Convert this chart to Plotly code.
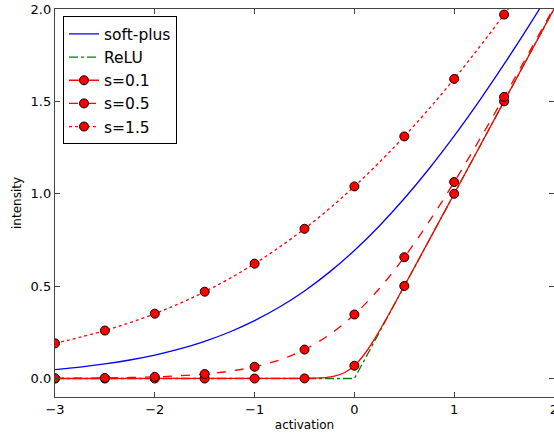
import plotly.graph_objects as go

# ---- data ----
x_soft = [-3, -2.75, -2.5, -2.25, -2, -1.75, -1.5, -1.25, -1, -0.75, -0.5, -0.25,
          0, 0.25, 0.5, 0.75, 1, 1.25, 1.5, 1.75, 2]
y_soft = [0.0486, 0.0620, 0.0789, 0.1002, 0.1269, 0.1602, 0.2014, 0.2519, 0.3133,
          0.3868, 0.4741, 0.5759, 0.6931, 0.8259, 0.9741, 1.1368, 1.3133, 1.5019,
          1.7014, 1.9102, 2.1269]

x_relu = [-3, 0, 2]
y_relu = [0, 0, 2]

# s = 0.1 curve
x_s01_line = [-3, -0.5, -0.4, -0.3, -0.2, -0.1, 0, 0.1, 0.2, 0.3, 0.4, 0.5, 1, 1.5, 2]
y_s01_line = [0.0, 0.0007, 0.0018, 0.0049, 0.0127, 0.0313, 0.0693, 0.1313, 0.2127,
              0.3049, 0.4018, 0.5007, 1.0, 1.5, 2.0]

# s = 0.5 curve
x_s05_line = [-3, -2.75, -2.5, -2.25, -2, -1.75, -1.5, -1.25, -1, -0.75, -0.5, -0.25,
              0, 0.25, 0.5, 0.75, 1, 1.25, 1.5, 1.75, 2]
y_s05_line = [0.0012, 0.0020, 0.0034, 0.0055, 0.0091, 0.0149, 0.0243, 0.0395, 0.0635,
              0.1007, 0.1566, 0.2370, 0.3466, 0.4870, 0.6566, 0.8507, 1.0635, 1.2895,
              1.5243, 1.7649, 2.0091]

# s = 1.5 curve
x_s15_line = [-3, -2.5, -2, -1.5, -1, -0.5, 0, 0.5, 1, 1.5, 1.75, 2]
y_s15_line = [0.1903, 0.2596, 0.3510, 0.4699, 0.6216, 0.8105, 1.0397, 1.3105, 1.6216,
              1.9699, 2.1567, 2.3510]

# sample points (markers)
x_pts = [-3, -2.5, -2, -1.5, -1, -0.5, 0, 0.5, 1, 1.5]
y_s01_pts = [0.0, 0.0, 0.0, 0.0, 0.0, 0.0007, 0.0693, 0.5007, 1.0, 1.5]
y_s05_pts = [0.0012, 0.0034, 0.0091, 0.0243, 0.0635, 0.1566, 0.3466, 0.6566, 1.0635, 1.5243]
y_s15_pts = [0.1903, 0.2596, 0.3510, 0.4699, 0.6216, 0.8105, 1.0397, 1.3105, 1.6216, 1.9699]

x_ticks = [-3, -2, -1, 0, 1, 2]
y_ticks = [0.0, 0.5, 1.0, 1.5, 2.0]

FONT = "DejaVu Sans"
RED = "#ff0000"
LW = 1.3
MARKER = dict(size=9, color=RED, line=dict(color="black", width=1))

fig = go.Figure()

fig.add_trace(go.Scatter(x=x_soft, y=y_soft, mode="lines", name="soft-plus",
                         line=dict(color="#0000ff", width=LW, shape="spline")))
fig.add_trace(go.Scatter(x=x_relu, y=y_relu, mode="lines", name="ReLU",
                         line=dict(color="#008000", width=LW, dash="dashdot")))

series = [
    ("s=0.1", x_s01_line, y_s01_line, y_s01_pts, "solid"),
    ("s=0.5", x_s05_line, y_s05_line, y_s05_pts, "dash"),
    ("s=1.5", x_s15_line, y_s15_line, y_s15_pts, "dot"),
]
for name, xl, yl, yp, dash in series:
    fig.add_trace(go.Scatter(x=xl, y=yl, mode="lines", showlegend=False, legendgroup=name,
                             line=dict(color=RED, width=LW, dash=dash, shape="spline")))
    fig.add_trace(go.Scatter(x=x_pts, y=yp, mode="markers", showlegend=False, legendgroup=name,
                             marker=MARKER))
    fig.add_trace(go.Scatter(x=[None], y=[None], mode="lines+markers", name=name, legendgroup=name,
                             line=dict(color=RED, width=LW, dash=dash), marker=MARKER))

axis_common = dict(
    showgrid=False, zeroline=False, showline=True, linecolor="#444", linewidth=1.3,
    mirror="ticks", ticks="inside", ticklen=5, tickwidth=1.3, tickcolor="#444",
    tickfont=dict(family=FONT, size=13, color="black"),
    ticklabeloverflow="allow", automargin=False,
)

fig.update_layout(
    width=554, height=437,
    margin=dict(l=55, r=0, t=9, b=40),
    plot_bgcolor="white", paper_bgcolor="white",
    font=dict(family=FONT, size=12, color="black"),
    xaxis=dict(range=[-3, 2], tickvals=x_ticks,
               title=dict(text="activation", font=dict(family=FONT, size=12), standoff=4),
               **axis_common),
    yaxis=dict(range=[-0.1, 2.0], tickvals=y_ticks, tickformat=".1f",
               title=dict(text="intensity", font=dict(family=FONT, size=12), standoff=6),
               **axis_common),
    legend=dict(x=0.016, y=0.981, xanchor="left", yanchor="top",
                bordercolor="black", borderwidth=1, bgcolor="white",
                font=dict(family=FONT, size=15.5), tracegroupgap=0),
    showlegend=True,
)

fig.write_html("out.html")
